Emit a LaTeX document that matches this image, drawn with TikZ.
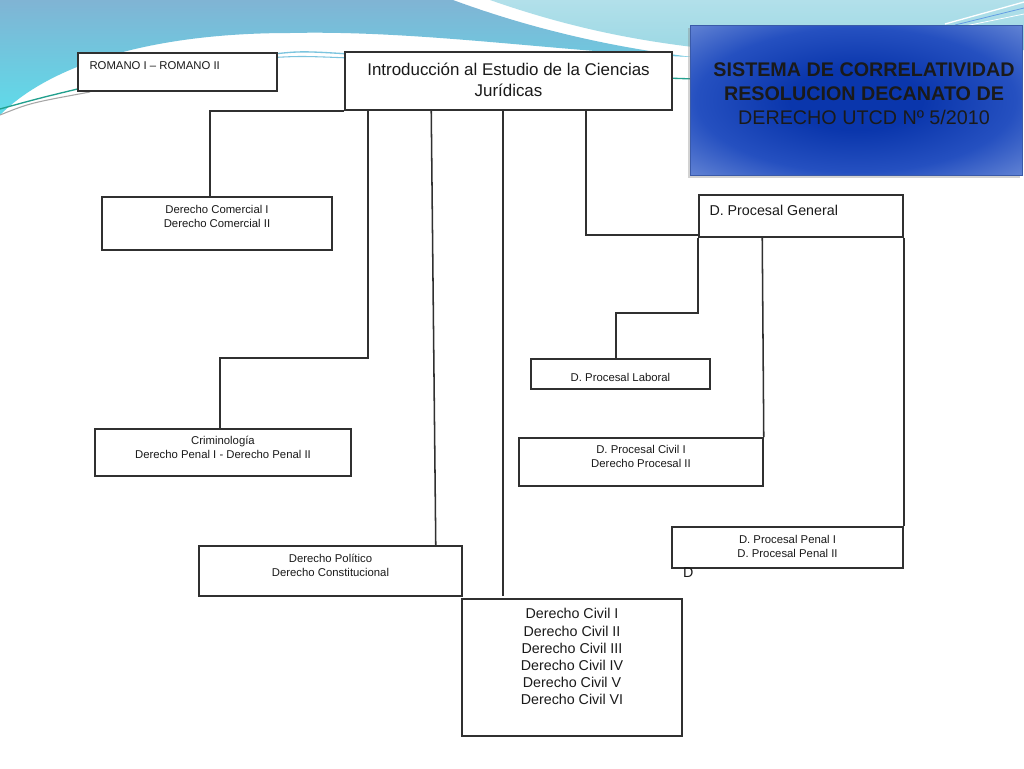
\documentclass[tikz,border=0pt]{standalone}
\usepackage{fontspec}
\setmainfont{Liberation Sans}
\usetikzlibrary{calc,shadows}
\definecolor{boxline}{HTML}{303030}
\definecolor{txtc}{HTML}{1A1A1A}
\definecolor{bluemd}{HTML}{80B4D4}
\definecolor{cyanmd}{HTML}{5EDCEA}
\definecolor{cyanlt}{HTML}{B2E0EA}
\definecolor{cyanlt2}{HTML}{9CD8E4}
\definecolor{tcA}{HTML}{0A36AC}
\definecolor{tcB}{HTML}{2550C0}
\definecolor{tcC}{HTML}{6F8ED8}
\definecolor{tcD}{HTML}{A8BAEA}
\definecolor{titleline}{HTML}{3A5AA8}
\definecolor{decoteal}{HTML}{22A08E}
\definecolor{decoblue}{HTML}{7CC4DE}
\pgfdeclareradialshading{titleshade}{\pgfpoint{0bp}{0bp}}{color(0bp)=(tcA); color(10bp)=(tcA); color(24bp)=(tcB); color(38bp)=(tcC); color(52bp)=(tcD); color(72bp)=(tcD)}
\begin{document}
\begin{tikzpicture}[x=0.75pt,y=-0.75pt,
  box/.style={draw=boxline, line width=1.15pt, fill=white, inner sep=0pt, rectangle},
  sz/.style 2 args={minimum width=#1*0.75pt, minimum height=#2*0.75pt},
  small/.style={font=\fontsize{8.5}{10.5}\selectfont, align=center, inner sep=0pt, text=txtc},
  mid/.style={font=\fontsize{10.7}{12.9}\selectfont, align=center, inner sep=0pt, text=txtc},
  big/.style={font=\fontsize{12.7}{15.75}\selectfont, align=center, inner sep=0pt, text=txtc},
  titletxt/.style={font=\fontsize{14.8}{18}\selectfont, align=center, inner sep=0pt, text=txtc},
  link/.style={draw=boxline, line width=1.15pt},
  titlebox/.style={draw=titleline, line width=0.6pt, shading=titleshade, inner sep=0pt,
    drop shadow={shadow xshift=-1.5pt, shadow yshift=-2.5pt, opacity=0.35}}]
% background
\fill[white] (0,0) rectangle (1024,768);
\useasboundingbox (0,0) rectangle (1024,768);
\shade[top color=cyanlt, bottom color=cyanlt2] (490,0) .. controls (570,28) and (640,42) .. (720,50) -- (1024,50) -- (1024,0) -- cycle;
\shade[top color=bluemd, bottom color=cyanmd] (0,0) -- (453,0) .. controls (540,32) and (620,48) .. (692,57) .. controls (560,52) and (420,30) .. (290,33) .. controls (150,33) and (50,65) .. (0,115) -- cycle;
\draw[decoteal, line width=1pt] (0,109) .. controls (40,98) .. (90,86);
\draw[gray!70, line width=0.8pt] (0,115) .. controls (30,103) .. (90,92);
\draw[decoblue, line width=1pt] (265,55) .. controls (300,51) .. (350,54);
\draw[decoblue, line width=0.8pt] (265,58) .. controls (300,56) .. (350,58);
\draw[decoteal, line width=1pt] (665,78) -- (695,79);
\draw[white, line width=1pt] (945,24) -- (1024,2);
\draw[decoblue!80!blue, line width=0.6pt] (955,25) -- (1024,8);
\draw[white, line width=0.6pt] (965,26) -- (1024,14);
% boxes
\node[box, sz={199}{38}] (rom) at (177.5,72) {};
\node[box, sz={327}{58}] (intro) at (508.5,81) {};
\node[titlebox, sz={332}{150}] (title) at (856,100) {};
\node[box, sz={204}{42}] (pg) at (801,216) {};
\node[box, sz={230}{53}] (com) at (217,223.5) {};
\node[box, sz={256}{47}] (crim) at (223,452.5) {};
\node[box, sz={179}{30}] (lab) at (620.5,374) {};
\node[box, sz={244}{48}] (pc) at (641,462) {};
\node[box, sz={231}{41}] (pp) at (787.5,547.5) {};
\node[box, sz={263}{50}] (pol) at (330.5,571) {};
\node[box, sz={220}{137}] (civ) at (572,667.5) {};
% texts
\node[small, anchor=west] (romt) at ($(rom.west)+(12,-6)$) {ROMANO I – ROMANO II};
\node[big] (introt) at ($(intro.center)+(0,-1)$) {Introducción al Estudio de la Ciencias\\Jurídicas};
\node[titletxt] (titlet) at ($(title.center)+(8,-6)$) {\bfseries SISTEMA DE CORRELATIVIDAD\\\bfseries RESOLUCION DECANATO DE\\DERECHO UTCD Nº 5/2010};
\node[mid, anchor=west] (pgt) at ($(pg.west)+(11,-6)$) {D. Procesal General};
\node[small] (comt) at ($(com.north)+(0,20)$) {Derecho Comercial I\\Derecho Comercial II};
\node[small] (crimt) at ($(crim.north)+(0,19.5)$) {Criminología\\Derecho Penal I - Derecho Penal II};
\node[small] (labt) at ($(lab.center)+(0,3)$) {D. Procesal Laboral};
\node[small] (pct) at ($(pc.north)+(0,19.5)$) {D. Procesal Civil I\\Derecho Procesal II};
\node[small] (ppt) at ($(pp.north)+(0,20)$) {D. Procesal Penal I\\D. Procesal Penal II};
\node[small] (polt) at ($(pol.north)+(0,20.5)$) {Derecho Político\\Derecho Constitucional};
\node[mid, anchor=north] (civt) at ($(civ.north)+(0,10)$) {Derecho Civil I\\Derecho Civil II\\Derecho Civil III\\Derecho Civil IV\\Derecho Civil V\\Derecho Civil VI};
\node[mid, anchor=center] (dd) at ($(pp.south west)+(17,4)$) {D};
% connectors
\draw[link] (intro.south west) -| ($(com.north)+(-7,0)$);
\draw[link] ($(intro.south west)+(24,0)$) -- ++(0,247) -| ($(crim.north)+(-3,0)$);
\draw[link] ($(intro.south west)+(87,0)$) -- ($(pol.north east)+(-27,0)$);
\draw[link] ($(intro.south west)+(159,0)$) -- ($(civ.north west)+(42,-2)$);
\draw[link] ($(intro.south west)+(242,0)$) |- ($(pg.south west)+(0,-3)$);
\draw[link] (pg.south west) -- ++(0,75) -| ($(lab.north)+(-4.5,0)$);
\draw[link] ($(pg.south west)+(64,0)$) -- (pc.north east);
\draw[link] (pg.south east) -- (pp.north east);
\end{tikzpicture}
\end{document}
